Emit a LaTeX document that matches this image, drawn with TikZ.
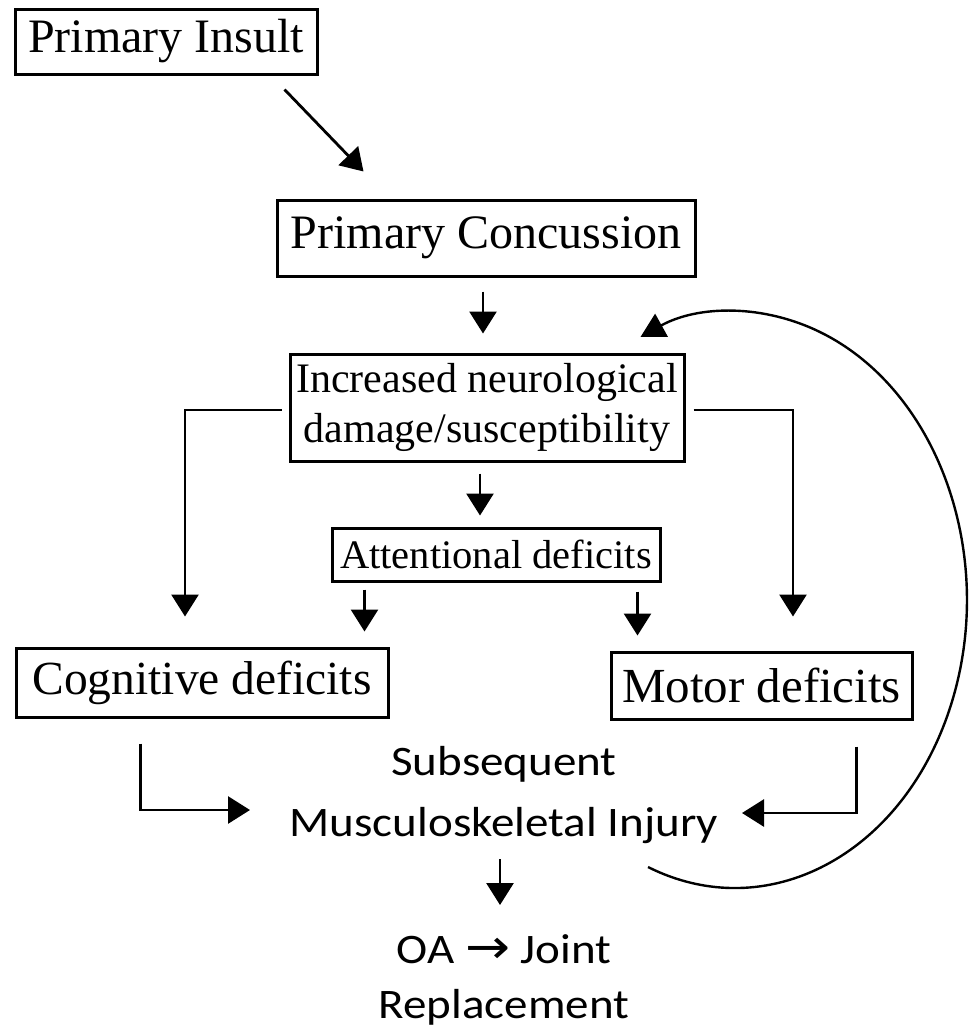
\documentclass[tikz,border=0pt]{standalone}
\usepackage{fontspec}
\setmainfont{Liberation Serif}
\newfontfamily\calib{Carlito}
\newfontfamily\symf{DejaVu Sans}
\usetikzlibrary{arrows.meta,calc}
\begin{document}
\begin{tikzpicture}[x=1pt,y=-1pt,
  box/.style={draw=black, line width=3pt, inner sep=0pt, align=center},
  arr/.style={line width=2.8pt, -{Triangle[length=22pt,width=27pt]}},
  arrc/.style={line width=2.4pt, -{Triangle[length=24pt,width=26pt]}},
  plain/.style={inner sep=0pt}]
\useasboundingbox (0,0) rectangle (969,1031);
\node[box, minimum width=302pt, minimum height=65pt, font=\fontsize{48}{56}\selectfont] (insult) at (166,41.5) {Primary Insult};
\node[box, minimum width=418pt, minimum height=76pt, font=\fontsize{48}{56}\selectfont] (concussion) at (486,238) {Primary Concussion};
\node[box, minimum width=394pt, minimum height=107pt, font=\fontsize{42}{50}\selectfont] (increased) at (487,407.5) {Increased neurological\\damage/susceptibility};
\node[box, minimum width=328pt, minimum height=53pt, font=\fontsize{40.5}{48}\selectfont] (attentional) at (496,554.5) {Attentional deficits};
\node[box, minimum width=372pt, minimum height=69pt, font=\fontsize{47.5}{56}\selectfont] (cognitive) at (202,682.5) {Cognitive deficits};
\node[box, minimum width=301pt, minimum height=67pt, font=\fontsize{49}{56}\selectfont] (motor) at (761.5,685.5) {Motor deficits};
\node[plain] (injury) at (504,793.3) {\calib\fontsize{42}{61}\selectfont\scalebox{1.12}[1]{\begin{tabular}{@{}c@{}}Subsequent\\Musculoskeletal Injury\end{tabular}}};
\node[plain] (oa) at (504,979.5) {\calib\fontsize{42}{55}\selectfont\scalebox{1.12}[1]{\begin{tabular}{@{}c@{}}OA {\symf\fontsize{48}{55}\selectfont →} Joint\\Replacement\end{tabular}}};
\coordinate (c1) at ($(concussion.south)+(-3,14)$);
\coordinate (i1) at ($(increased.south)+(-7,11)$);
\coordinate (a1) at ($(attentional.south west)+(34,7)$);
\coordinate (a2) at ($(attentional.south east)+(-24,9)$);
\coordinate (j1) at ($(injury.center)+(-4,65.7)$);
\draw[arr] ($(insult.south east)+(-34,14)$) -- ($(concussion.north west)+(88,-27)$);
\draw[arr] (c1) -- ($(c1 |- increased.north)+(0,-19)$);
\draw[arr] (i1) -- ($(i1 |- attentional.north)+(0,-11)$);
\draw[arr] ($(increased.west)+(-7,2.5)$) -| ($(cognitive.north)+(-17,-30)$);
\draw[arr] ($(increased.east)+(8,2.5)$) -| ($(motor.north)+(31.5,-34)$);
\draw[arr] (a1) -- ($(a1 |- cognitive.north)+(0,-15)$);
\draw[arr] (a2) -- ($(a2 |- motor.north)+(0,-15)$);
\draw[arr] ($(cognitive.south west)+(126,25)$) |- ($(injury.center)+(-254,16.7)$);
\draw[arr] ($(motor.south east)+(-57,26)$) |- ($(injury.center)+(238,19.7)$);
\draw[arr] (j1) -- ($(j1 |- oa.center)+(0,-74.5)$);
\draw[arrc] ($(injury.center)+(144,73.7)$) arc[start angle=112, end angle=-114, x radius=232, y radius=288];
\end{tikzpicture}
\end{document}
